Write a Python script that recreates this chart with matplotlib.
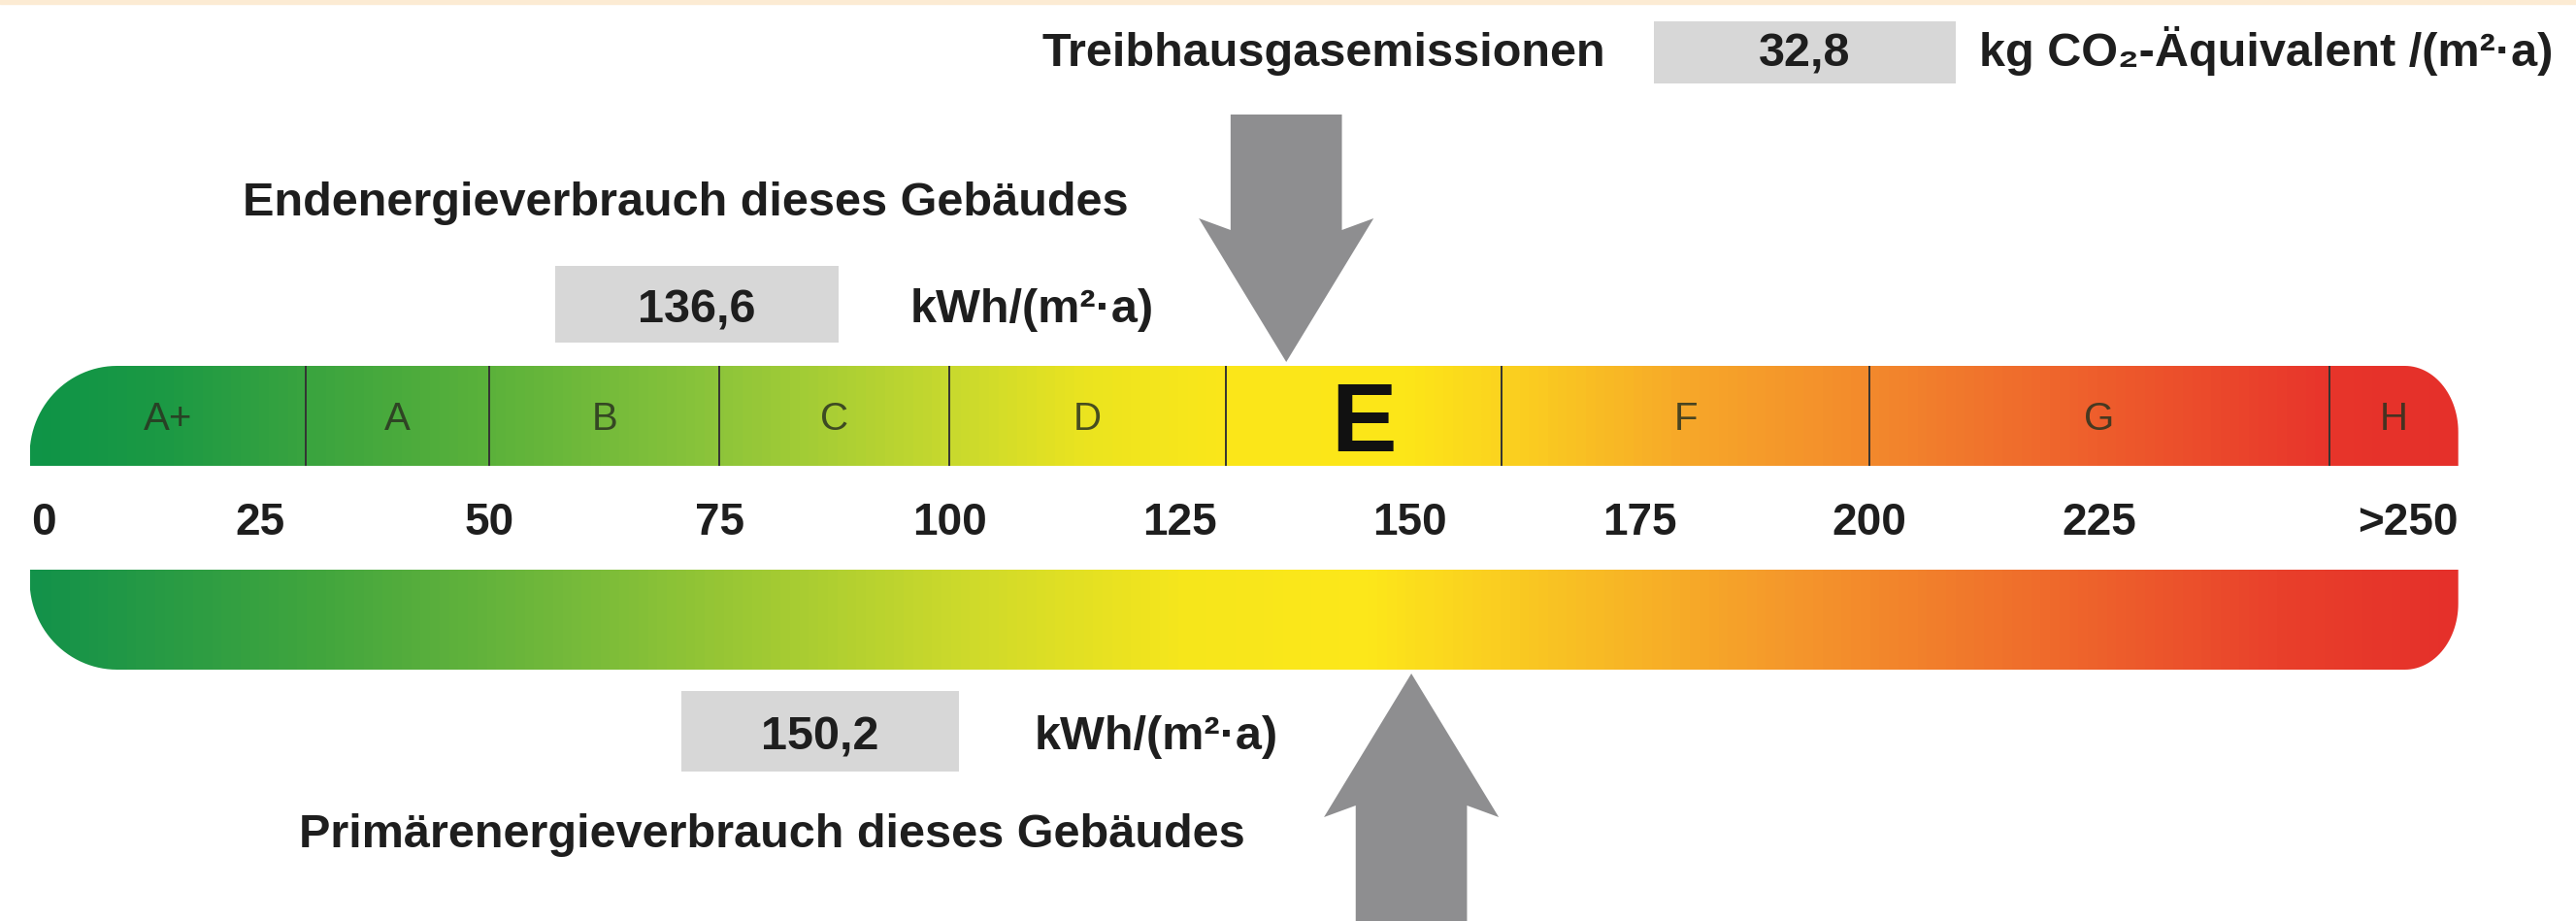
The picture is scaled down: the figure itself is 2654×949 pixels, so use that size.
import matplotlib
matplotlib.use("Agg")
import matplotlib.pyplot as plt
import numpy as np
from matplotlib.colors import LinearSegmentedColormap
from matplotlib.path import Path
from matplotlib.patches import Polygon, Rectangle


# energy classes and scale (kWh/(m²·a))
CLASS_LABELS = ["A+", "A", "B", "C", "D", "E", "F", "G", "H"]
CLASS_BOUNDS = [0, 30, 50, 75, 100, 130, 160, 200, 250, 264]
CURRENT_CLASS = "E"

TICK_VALUES = [0, 25, 50, 75, 100, 125, 150, 175, 200, 225, 250]
TICK_LABELS = ["0", "25", "50", "75", "100", "125", "150", "175", "200", "225", ">250"]

ENDENERGIE = 136.6
PRIMAERENERGIE = 150.2
CO2_EMISSION = 32.8

# gradient stops (value, colour)
TOP_STOPS = [0, 15, 30, 50, 75, 100, 115, 130, 150, 160, 180, 200, 225, 250, 264]
TOP_COLORS = ["#0f9447", "#1d9a44", "#3aa43f", "#5cb23a", "#8ec53a", "#c8d92e",
              "#ece41f", "#fbe71a", "#fde618", "#fbd31f", "#f7a829", "#f38a2c",
              "#ee5e2c", "#e8352b", "#e5302a"]
BOTTOM_STOPS = [0, 30, 60, 100, 125, 145, 165, 190, 220, 245, 264]
BOTTOM_COLORS = ["#13924a", "#40a53e", "#78bb3a", "#cbd92c", "#f6e61c", "#fde81a",
                 "#f9c423", "#f59a2b", "#ef6a2c", "#e9402b", "#e5302a"]

FONT = ["Liberation Sans", "DejaVu Sans"]

# layout: x in scale units, y in pixels from the top
W, H = 2654, 949
PX_PER_UNIT = 9.478
ZERO_PX = 30.5


def px(x):
    return (x - ZERO_PX) / PX_PER_UNIT


def de(v):
    return f"{v:.1f}".replace(".", ",")


def bar_path(x0, x1, y0, y1, rxl, rxr, ryl, ryr, top):
    t = np.linspace(0, np.pi / 2, 30)
    if top:
        pts = [(x0, y1)]
        cx, cy = x0 + rxl, y0 + ryl
        pts += list(zip(cx - rxl * np.cos(t), cy - ryl * np.sin(t)))
        cx, cy = x1 - rxr, y0 + ryr
        pts += list(zip(cx + rxr * np.sin(t), cy - ryr * np.cos(t)))
        pts += [(x1, y1)]
    else:
        pts = [(x0, y0)]
        cx, cy = x0 + rxl, y1 - ryl
        pts += list(zip(cx - rxl * np.cos(t), cy + ryl * np.sin(t)))
        cx, cy = x1 - rxr, y1 - ryr
        pts += list(zip(cx + rxr * np.sin(t), cy + ryr * np.cos(t)))
        pts += [(x1, y0)]
    pts.append(pts[0])
    return Path(pts, closed=True)


def gradient_bar(ax, stops, colors, y0, y1, top):
    lo, hi = CLASS_BOUNDS[0], CLASS_BOUNDS[-1]
    pos = [(s - lo) / (hi - lo) for s in stops]
    cmap = LinearSegmentedColormap.from_list("scale", list(zip(pos, colors)))
    grad = np.linspace(0, 1, 600).reshape(1, -1)
    im = ax.imshow(grad, cmap=cmap, aspect="auto", extent=(lo, hi, y1, y0),
                   interpolation="bilinear", zorder=2)
    path = bar_path(lo, hi, y0, y1, 9.5, 5.8, 92, 68, top)
    im.set_clip_path(path, transform=ax.transData)


def arrow(ax, value, tip_y, shaft_end_y, down):
    hs, hh, head, barb = 6.05, 9.5, 148, 12
    d = -1 if down else 1
    base = tip_y + d * head
    pts = [(value - hs, shaft_end_y), (value + hs, shaft_end_y),
           (value + hs, base - d * barb), (value + hh, base), (value, tip_y),
           (value - hh, base), (value - hs, base - d * barb)]
    ax.add_patch(Polygon(pts, closed=True, facecolor="#8e8e90", edgecolor="none", zorder=4))


def value_box(ax, x0, x1, y0, y1, baseline, text):
    ax.add_patch(Rectangle((px(x0), y0), px(x1) - px(x0), y1 - y0,
                           facecolor="#d7d7d7", edgecolor="none", zorder=3))
    ax.text(px((x0 + x1) / 2), baseline, text, ha="center", va="baseline",
            fontsize=35, fontweight="bold", color="#1e1e1e", family=FONT, zorder=5)


def main():
    fig = plt.figure(figsize=(W / 100, H / 100), dpi=100)
    ax = fig.add_axes([0, 0, 1, 1])
    ax.set_xlim(px(0), px(W))
    ax.set_ylim(H, 0)
    ax.axis("off")

    ax.axhspan(0, 4, color="#fcebd3", zorder=1)

    # top bar with classes
    top_y0, top_y1 = 377, 480
    gradient_bar(ax, TOP_STOPS, TOP_COLORS, top_y0, top_y1, top=True)
    ax.vlines(CLASS_BOUNDS[1:-1], top_y0, top_y1, color="#333333", lw=1.4, zorder=3)
    for i, label in enumerate(CLASS_LABELS):
        xc = (CLASS_BOUNDS[i] + CLASS_BOUNDS[i + 1]) / 2
        if label == CURRENT_CLASS:
            ax.text(xc, 465, label, ha="center", va="baseline", fontsize=73,
                    fontweight="bold", color="#111111", family=FONT, zorder=5)
        else:
            ax.text(xc, 443, label, ha="center", va="baseline", fontsize=29,
                    color="#2a3320", alpha=0.85, family=FONT, zorder=5)

    # scale numbers
    for v, lab in zip(TICK_VALUES, TICK_LABELS):
        if v == TICK_VALUES[0]:
            x, ha = v + 0.2, "left"
        elif v == TICK_VALUES[-1]:
            x, ha = CLASS_BOUNDS[-1], "right"
        else:
            x, ha = v, "center"
        ax.text(x, 551, lab, ha=ha, va="baseline", fontsize=33, fontweight="bold",
                color="#1e1e1e", family=FONT, zorder=5)

    # bottom bar
    gradient_bar(ax, BOTTOM_STOPS, BOTTOM_COLORS, 587, 690, top=False)

    # arrows
    arrow(ax, ENDENERGIE, 373, 118, down=True)
    arrow(ax, PRIMAERENERGIE, 694, 960, down=False)

    txt = dict(va="baseline", fontsize=35, fontweight="bold", color="#1e1e1e",
               family=FONT, zorder=5)

    # greenhouse gas emissions
    ax.text(px(1074), 68, "Treibhausgasemissionen", ha="left", **txt)
    value_box(ax, 1704, 2015, 22, 86, 68, de(CO2_EMISSION))
    ax.text(px(2039), 68, "kg CO\u2082-Äquivalent /(m²·a)", ha="left", **txt)

    # final energy
    ax.text(px(250), 222, "Endenergieverbrauch dieses Gebäudes", ha="left", **txt)
    value_box(ax, 572, 864, 274, 353, 332, de(ENDENERGIE))
    ax.text(px(938), 332, "kWh/(m²·a)", ha="left", **txt)

    # primary energy
    value_box(ax, 702, 988, 712, 795, 772, de(PRIMAERENERGIE))
    ax.text(px(1066), 772, "kWh/(m²·a)", ha="left", **txt)
    ax.text(px(308), 873, "Primärenergieverbrauch dieses Gebäudes", ha="left", **txt)

    fig.savefig("out.png", dpi=100, facecolor="white")
    plt.close(fig)


if __name__ == "__main__":
    main()
